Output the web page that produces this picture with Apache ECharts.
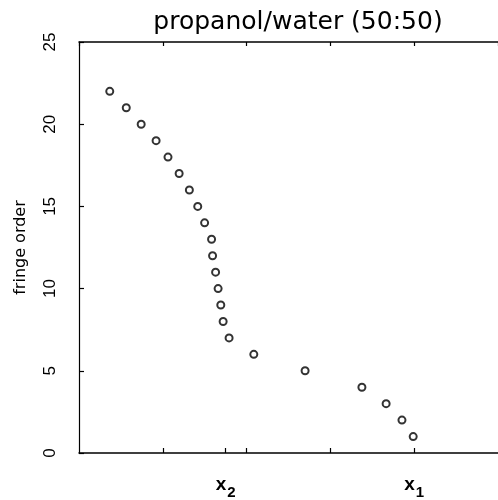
<!DOCTYPE html>
<html><head><meta charset="utf-8">
<script src="https://cdn.jsdelivr.net/npm/echarts@6/dist/echarts.min.js"></script>
<style>html,body{margin:0;padding:0;background:#fff}#c{width:498px;height:500px}</style>
</head><body><div id="c"></div>
<script>
// fringe order vs position (arbitrary x units)
const fringeOrder = [22,21,20,19,18,17,16,15,14,13,12,11,10,9,8,7,6,5,4,3,2,1];
const xPos = [0.367,0.564,0.742,0.920,1.062,1.195,1.317,1.417,1.499,1.582,1.594,1.630,1.660,1.692,1.720,1.791,2.086,2.698,3.376,3.665,3.854,3.988];
const yTicks = [0,5,10,15,20,25];
const xMarkerPos = [1.75, 4];
const xMarkerLabels = ['{a|x}{b|2}', '{a|x}{b|1}'];

const chart = echarts.init(document.getElementById('c'), null, {renderer:'canvas'});
const fontFam = 'DejaVu Sans';
chart.setOption({
  animation:false,
  title:{text:'propanol/water (50:50)', left:293, top:5, textAlign:'center',
    textStyle:{fontFamily:fontFam, fontWeight:'normal', fontSize:25, color:'#000'}},
  grid:{left:79, top:42, width:423, height:413, containLabel:false},
  xAxis:[{
    type:'value', min:0, max:5, position:'bottom',
    axisLine:{lineStyle:{color:'#000', width:1.5}},
    splitLine:{show:false},
    axisTick:{show:true, inside:true, length:5, lineStyle:{color:'#000', width:1.2}, customValues:[1,1.75,2,3,4]},
    axisLabel:{show:true, customValues:xMarkerPos, margin:22,
      formatter:function(v){ const i = xMarkerPos.indexOf(v); return i>=0 ? xMarkerLabels[i] : ''; },
      rich:{a:{fontFamily:'Liberation Sans', fontWeight:'bold', fontSize:19, color:'#000', verticalAlign:'top'},
            b:{fontFamily:'Liberation Sans', fontWeight:'bold', fontSize:15, color:'#000', padding:[10,0,0,1]}}}
  },{
    type:'value', min:0, max:5, position:'top',
    axisLine:{lineStyle:{color:'#000', width:1.5}},
    splitLine:{show:false},
    axisTick:{show:true, inside:true, length:4, lineStyle:{color:'#000', width:1.2}},
    axisLabel:{show:false}
  }],
  yAxis:{
    type:'value', min:0, max:25, interval:5,
    name:'fringe order', nameLocation:'middle', nameGap:50, nameRotate:90,
    nameTextStyle:{fontFamily:fontFam, fontSize:16, color:'#000'},
    axisLine:{show:true, lineStyle:{color:'#000', width:1.2}},
    splitLine:{show:false},
    axisTick:{show:true, inside:true, length:5, lineStyle:{color:'#000', width:1.2}},
    axisLabel:{rotate:90, margin:20, fontFamily:'Liberation Sans', fontSize:17, color:'#000',
      formatter:function(v){ return yTicks.indexOf(v)>=0 ? String(v) : ''; }}
  },
  series:[{
    type:'scatter', xAxisIndex:0,
    data: xPos.map((x,i)=>[x, fringeOrder[i]]),
    symbol:'emptyCircle', symbolSize:7,
    itemStyle:{color:'#000', borderColor:'#000', borderWidth:1}
  }]
});
</script></body></html>
